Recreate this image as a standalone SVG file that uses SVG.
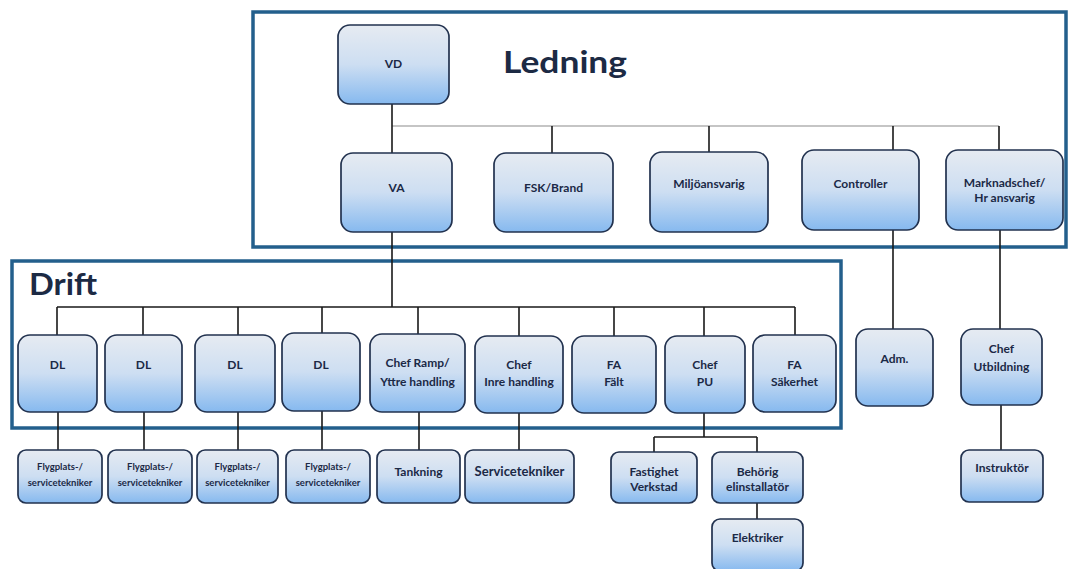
<svg xmlns="http://www.w3.org/2000/svg" width="1070" height="569" viewBox="0 0 1070 569">
<defs>
<linearGradient id="g" x1="0" y1="0" x2="0" y2="1">
<stop offset="0" stop-color="#e6ebf2"/>
<stop offset="0.5" stop-color="#cddef2"/>
<stop offset="1" stop-color="#86b9ef"/>
</linearGradient>
<style>
.n{fill:url(#g);stroke:#22324f;stroke-width:1.7}
.t{font-family:Lato,"Open Sans","Liberation Sans",sans-serif;font-weight:bold;fill:#1b2946;text-anchor:middle;font-size:12px}
.s{font-size:9.5px}
.m{font-size:13px}
.h{font-family:Lato,"Open Sans","Liberation Sans",sans-serif;font-weight:bold;fill:#1c2a44;font-size:31px}
.frame{fill:none;stroke:#235f8c;stroke-width:3.5}
.c{fill:none;stroke:#1a1a1a;stroke-width:1.6}
.cg{fill:none;stroke:#8c8c8c;stroke-width:1.2}
</style>
</defs>
<rect width="1070" height="569" fill="#ffffff"/>
<g id="ledning-frame">
<rect class="frame" x="253" y="12" width="813" height="235"/>
<text class="h" x="503" y="73" textLength="124" lengthAdjust="spacingAndGlyphs">Ledning</text>
</g>
<g id="drift-frame">
<rect class="frame" x="12" y="261" width="829" height="167"/>
<text class="h" x="29" y="295" textLength="68" lengthAdjust="spacingAndGlyphs">Drift</text>
</g>
<g id="connectors">
<line class="cg" x1="392" y1="126" x2="999" y2="126"/>
<path class="c" d="M392 104V153M552 126V153M709 126V152M893 126V150M999 126V150"/>
<path class="c" d="M392 232V307M57 307H795M57 307V335M143 307V335M238 307V335M322 307V333M418 307V334M519 307V336M614 307V336M704 307V336M795 307V335"/>
<path class="c" d="M58 412V450M144 412V450M238 412V450M322 411V450M419 412V450M519 413V450"/>
<path class="c" d="M704 413V437M654 437H757M654 437V452M757 437V452M757 503V519"/>
<path class="c" d="M893 230V329M1000 230V329M1001 405V450"/>
</g>
<g id="vd"><rect class="n" x="338" y="25" width="111" height="79" rx="12"/><text class="t" x="393.5" y="68">VD</text></g>
<g id="va"><rect class="n" x="341" y="153" width="111" height="79" rx="12"/><text class="t" x="396.5" y="192">VA</text></g>
<g id="fsk"><rect class="n" x="494" y="153" width="119" height="79" rx="12"/><text class="t" x="553.5" y="192">FSK/Brand</text></g>
<g id="miljo"><rect class="n" x="650" y="152" width="118" height="80" rx="12"/><text class="t" x="709" y="188">Miljöansvarig</text></g>
<g id="controller"><rect class="n" x="802" y="150" width="117" height="80" rx="12"/><text class="t" x="860.5" y="188">Controller</text></g>
<g id="marknad"><rect class="n" x="946" y="150" width="117" height="80" rx="12"/><text class="t" x="1004.5" y="187">Marknadschef/</text><text class="t" x="1004.5" y="202">Hr ansvarig</text></g>
<g id="dl1"><rect class="n" x="18" y="335" width="79" height="77" rx="12"/><text class="t" x="57.5" y="369">DL</text></g>
<g id="dl2"><rect class="n" x="105" y="335" width="77" height="77" rx="12"/><text class="t" x="143.5" y="369">DL</text></g>
<g id="dl3"><rect class="n" x="195" y="335" width="80" height="77" rx="12"/><text class="t" x="235" y="369">DL</text></g>
<g id="dl4"><rect class="n" x="282" y="333" width="78" height="78" rx="12"/><text class="t" x="321" y="369">DL</text></g>
<g id="chef-ramp"><rect class="n" x="370" y="334" width="95" height="78" rx="12"/><text class="t" x="417.5" y="367">Chef Ramp/</text><text class="t" x="417.5" y="386">Yttre handling</text></g>
<g id="chef-inre"><rect class="n" x="475" y="336" width="88" height="77" rx="12"/><text class="t" x="519" y="369">Chef</text><text class="t" x="519" y="386">Inre handling</text></g>
<g id="fa-falt"><rect class="n" x="572" y="336" width="84" height="77" rx="12"/><text class="t" x="614" y="369">FA</text><text class="t" x="614" y="386">Fält</text></g>
<g id="chef-pu"><rect class="n" x="665" y="336" width="80" height="77" rx="12"/><text class="t" x="705" y="369">Chef</text><text class="t" x="705" y="386">PU</text></g>
<g id="fa-sakerhet"><rect class="n" x="753" y="335" width="83" height="77" rx="12"/><text class="t" x="794.5" y="369">FA</text><text class="t" x="794.5" y="386">Säkerhet</text></g>
<g id="adm"><rect class="n" x="856" y="329" width="77" height="77" rx="12"/><text class="t" x="894.5" y="363">Adm.</text></g>
<g id="chef-utb"><rect class="n" x="961" y="329" width="81" height="76" rx="12"/><text class="t" x="1001.5" y="353">Chef</text><text class="t" x="1001.5" y="371">Utbildning</text></g>
<g id="flyg1"><rect class="n" x="18" y="450" width="84" height="53" rx="8"/><text class="t s" x="60" y="470">Flygplats-/</text><text class="t s" x="60" y="486">servicetekniker</text></g>
<g id="flyg2"><rect class="n" x="108" y="450" width="84" height="53" rx="8"/><text class="t s" x="150" y="470">Flygplats-/</text><text class="t s" x="150" y="486">servicetekniker</text></g>
<g id="flyg3"><rect class="n" x="197" y="450" width="81" height="53" rx="8"/><text class="t s" x="237.5" y="470">Flygplats-/</text><text class="t s" x="237.5" y="486">servicetekniker</text></g>
<g id="flyg4"><rect class="n" x="286" y="450" width="84" height="53" rx="8"/><text class="t s" x="328" y="470">Flygplats-/</text><text class="t s" x="328" y="486">servicetekniker</text></g>
<g id="tankning"><rect class="n" x="377" y="450" width="83" height="53" rx="8"/><text class="t" x="418.5" y="476">Tankning</text></g>
<g id="servicetekniker"><rect class="n" x="465" y="450" width="109" height="53" rx="8"/><text class="t m" x="519.5" y="476">Servicetekniker</text></g>
<g id="fastighet"><rect class="n" x="611" y="452" width="86" height="51" rx="8"/><text class="t" x="654" y="476">Fastighet</text><text class="t" x="654" y="491">Verkstad</text></g>
<g id="behorig"><rect class="n" x="712" y="452" width="91" height="51" rx="8"/><text class="t" x="757.5" y="476">Behörig</text><text class="t" x="757.5" y="491">elinstallatör</text></g>
<g id="elektriker"><rect class="n" x="712" y="519" width="91" height="52" rx="8"/><text class="t" x="757.5" y="542">Elektriker</text></g>
<g id="instruktor"><rect class="n" x="961" y="450" width="82" height="52" rx="8"/><text class="t" x="1002" y="472">Instruktör</text></g>
</svg>
